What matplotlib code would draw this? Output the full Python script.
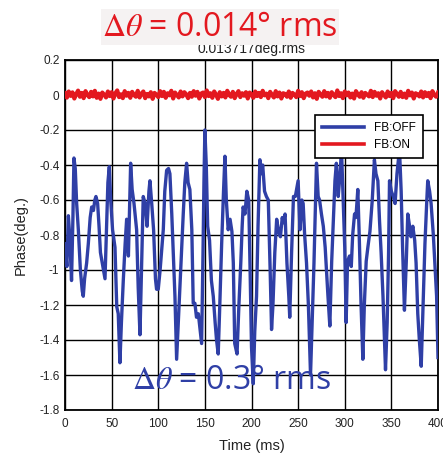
import matplotlib
matplotlib.use("Agg")
import matplotlib.pyplot as plt

# ---------------- data ----------------
blue_t = [0, 2, 3.6, 5, 7, 8.5, 9.6, 11, 12.5, 14.3, 16.5, 18.5, 19.6, 21, 23.2, 25, 27, 28.6,
          30.5, 32, 33.2, 35, 36.5, 38, 40, 42.9, 44.5, 46, 47.5, 49, 51, 53.6, 55.5, 57.1,
          58.9, 60.5, 62.5, 64.5, 66.1, 68, 70.4, 72, 74, 76.8, 78.5, 80.4, 82, 83.9, 86, 88,
          90, 91.1, 93, 95, 97, 98.2, 100, 102, 105.4, 107, 109, 111, 112.5, 114.5, 116.5,
          117.9, 119.7, 121.5, 123.2, 125, 126.8, 128.5, 130.4, 132, 133.9, 136, 137.5, 139.3,
          141, 143, 145, 146.5, 148, 149, 150, 151.5, 153, 155, 157, 159, 161, 162.5, 164.3,
          166, 168, 170, 171.5, 173, 175, 177, 179, 180.5, 182, 184.5, 186.5, 188.5, 190, 191,
          193, 195, 197, 198.5, 200, 201.9, 203.5, 205.4, 207, 209, 210.5, 212, 214, 216, 218,
          220, 221.5, 223, 225, 227, 229, 231, 233, 234, 236, 238, 240, 241, 243, 245, 247,
          249, 250, 252, 254, 255.4, 257, 259, 261, 262.5, 263.3, 265, 267, 269.7, 271.5, 273,
          275, 277, 279, 281, 282, 284, 286, 288, 289.5, 291, 293, 295, 296.5, 298, 300, 301.5,
          303, 305.1, 307, 308.5, 310.5, 312, 314, 315.5, 317.5, 319.4, 321, 323, 324.8, 327,
          329.5, 331.8, 333.5, 335.5, 337.3, 339, 341, 343.7, 345.5, 347, 348, 350, 352, 354,
          356, 358.7, 360.5, 362, 364, 366, 367.6, 369.5, 371, 373, 375, 376.5, 378.3, 380,
          382, 384, 386, 388, 389, 391, 392.6, 395, 397, 398.5, 400]
blue_v = [-0.85, -0.98, -0.69, -0.80, -1.06, -0.70, -0.36, -0.42, -0.62, -0.77, -1.00, -1.12,
          -1.15, -1.05, -0.96, -0.85, -0.70, -0.64, -0.66, -0.60, -0.58, -0.62, -0.75, -0.90,
          -0.96, -1.05, -0.77, -0.50, -0.41, -0.60, -0.77, -0.87, -1.21, -1.25, -1.53, -1.30,
          -1.06, -0.85, -0.71, -0.92, -0.39, -0.54, -0.62, -0.77, -1.10, -1.37, -1.00, -0.58,
          -0.62, -0.75, -0.55, -0.49, -0.62, -0.77, -1.05, -1.11, -1.11, -1.00, -0.77, -0.55,
          -0.43, -0.42, -0.45, -0.68, -0.95, -1.15, -1.51, -1.30, -1.11, -0.90, -0.68, -0.50,
          -0.39, -0.50, -0.54, -0.77, -1.19, -1.19, -1.27, -1.25, -1.35, -1.42, -0.90, -0.50,
          -0.20, -0.40, -0.75, -0.83, -1.06, -1.15, -1.30, -1.40, -1.48, -1.20, -0.85, -0.55,
          -0.35, -0.60, -0.77, -0.71, -0.78, -0.96, -1.42, -1.48, -1.20, -0.96, -0.75, -0.64,
          -0.68, -0.55, -0.60, -1.00, -1.44, -1.65, -1.35, -1.15, -0.75, -0.37, -0.45, -0.40,
          -0.55, -0.58, -0.60, -1.00, -1.34, -1.20, -0.90, -0.71, -0.78, -0.81, -0.70, -0.73,
          -0.68, -0.96, -1.15, -1.27, -0.90, -0.58, -0.58, -0.52, -0.49, -0.77, -0.60, -0.62,
          -0.80, -0.96, -1.20, -1.45, -1.60, -1.30, -0.96, -0.39, -0.58, -0.60, -0.68, -0.75,
          -0.87, -1.06, -1.15, -1.32, -0.95, -0.68, -0.49, -0.39, -0.58, -0.45, -0.31, -0.55,
          -0.87, -1.30, -0.95, -0.92, -0.98, -0.80, -0.68, -0.70, -0.54, -0.80, -1.20, -1.51,
          -1.20, -0.95, -0.87, -0.78, -0.60, -0.37, -0.45, -0.49, -0.72, -0.90, -1.15, -1.57,
          -1.30, -0.90, -0.49, -0.55, -0.58, -0.62, -0.45, -0.31, -0.55, -0.87, -1.23, -0.95,
          -0.68, -0.75, -0.81, -0.75, -0.83, -0.96, -1.25, -1.40, -1.55, -1.20, -0.85, -0.60,
          -0.49, -0.55, -0.62, -0.80, -1.00, -1.15, -1.50]

red_t = [i * 2 for i in range(201)]
red_v = [0.010, -0.015, 0.020, -0.005, 0.015, -0.020, 0.005, 0.025, -0.010, 0.012,
         -0.018, 0.022, 0.000, -0.012, 0.018, -0.008, 0.024, -0.016, 0.008, -0.022,
         0.014, 0.002, -0.014, 0.020, -0.006, 0.016, -0.020, 0.010, 0.026, -0.012,
         0.004, -0.018, 0.022, -0.004, 0.012, -0.016, 0.018, 0.000, -0.010, 0.024,
         -0.014, 0.008, 0.020, -0.018, 0.006, -0.008, 0.016, -0.022, 0.012, 0.002,
         -0.012, 0.022, -0.006, 0.018, -0.016, 0.010, -0.002, 0.024, -0.020, 0.014,
         0.000, -0.014, 0.020, -0.008, 0.016, 0.004, -0.018, 0.012, -0.010, 0.022,
         -0.004, 0.018, -0.020, 0.008, 0.014, -0.012, 0.026, -0.006, 0.010, -0.016,
         0.020, 0.002, -0.022, 0.016, -0.008, 0.012, -0.014, 0.024, 0.000, -0.010,
         0.018, -0.018, 0.006, 0.022, -0.012, 0.010, -0.004, 0.016, -0.020, 0.014,
         0.004, -0.016, 0.020, -0.006, 0.012, -0.012, 0.024, -0.002, 0.008, -0.018,
         0.018, 0.000, -0.014, 0.022, -0.008, 0.014, -0.020, 0.010, 0.006, -0.010,
         0.020, -0.016, 0.012, 0.002, -0.012, 0.024, -0.006, 0.016, -0.018, 0.008,
         0.014, -0.004, 0.020, -0.014, 0.010, -0.022, 0.018, 0.004, -0.010, 0.022,
         -0.008, 0.012, -0.016, 0.016, 0.000, -0.012, 0.026, -0.006, 0.010, -0.018,
         0.020, -0.002, 0.014, -0.014, 0.008, -0.020, 0.022, 0.004, -0.010, 0.016,
         -0.016, 0.012, 0.002, -0.008, 0.024, -0.012, 0.018, -0.004, 0.010, -0.020,
         0.016, 0.000, -0.014, 0.020, -0.006, 0.012, -0.018, 0.022, 0.006, -0.010,
         0.018, -0.012, 0.008, -0.016, 0.024, -0.002, 0.014, -0.020, 0.010, 0.004,
         -0.008, 0.020, -0.014, 0.016, -0.006, 0.012, -0.018, 0.022, 0.000, -0.010,
         0.014]

x_ticks = [0, 50, 100, 150, 200, 250, 300, 350, 400]
y_ticks = [0.2, 0, -0.2, -0.4, -0.6, -0.8, -1, -1.2, -1.4, -1.6, -1.8]
y_tick_labels = ["0.2", "0", "-0.2", "-0.4", "-0.6", "-0.8", "-1", "-1.2", "-1.4", "-1.6", "-1.8"]
series_labels = ["FB:OFF", "FB:ON"]
title_text = "0.013717deg.rms"
top_note = "$\\Delta\\theta$ = 0.014° rms"
bottom_note = "$\\Delta\\theta$ = 0.3° rms"

# ---------------- style ----------------
BLUE = "#2f3fa6"
RED = "#e3181f"
plt.rcParams["font.family"] = ["Liberation Sans", "DejaVu Sans"]
plt.rcParams["mathtext.fontset"] = "stix"

fig = plt.figure(figsize=(4.43, 4.54), dpi=100)
ax = fig.add_axes([65 / 443, 44 / 454, 373 / 443, 350 / 454])

ax.plot(blue_t, blue_v, color=BLUE, lw=2.4, label=series_labels[0], zorder=3)
ax.plot(red_t, red_v, color=RED, lw=3.0, label=series_labels[1], zorder=3)

ax.set_xlim(0, 400)
ax.set_ylim(-1.8, 0.2)
ax.set_xticks(x_ticks)
ax.set_yticks(y_ticks)
ax.set_yticklabels(y_tick_labels)
ax.tick_params(axis="both", length=0, labelsize=8.5, colors="#222222")
ax.tick_params(axis="y", pad=4)
ax.tick_params(axis="x", pad=6)
ax.grid(True, color="black", lw=1.0, zorder=1)
for s in ax.spines.values():
    s.set_color("black")
    s.set_linewidth(1.3)

ax.set_title(title_text, fontsize=10, color="#222222", pad=5)
ax.set_xlabel("Time (ms)", fontsize=10.5, color="#222222", labelpad=6)
ax.set_ylabel("Phase(deg.)", fontsize=10.5, color="#222222", labelpad=8)

leg = ax.legend(loc="upper right", bbox_to_anchor=(0.975, 0.86), fontsize=8.5,
                frameon=True, fancybox=False, edgecolor="black", framealpha=1,
                handlelength=3.6, borderpad=0.6, labelspacing=0.45, handletextpad=0.8)
leg.get_frame().set_linewidth(1.2)
for line in leg.get_lines():
    line.set_linewidth(2.6)

fig.text(220 / 443, 1 - 27 / 454, top_note, color=RED, fontsize=23,
         family=["Open Sans", "DejaVu Sans"], ha="center", va="center",
         bbox=dict(facecolor="#f5f2f2", edgecolor="none", pad=1))
ax.text(72, -1.63, bottom_note, color=BLUE, fontsize=23,
        family=["Open Sans", "DejaVu Sans"], ha="left", va="center", zorder=5)

fig.savefig("out.png", dpi=100)
